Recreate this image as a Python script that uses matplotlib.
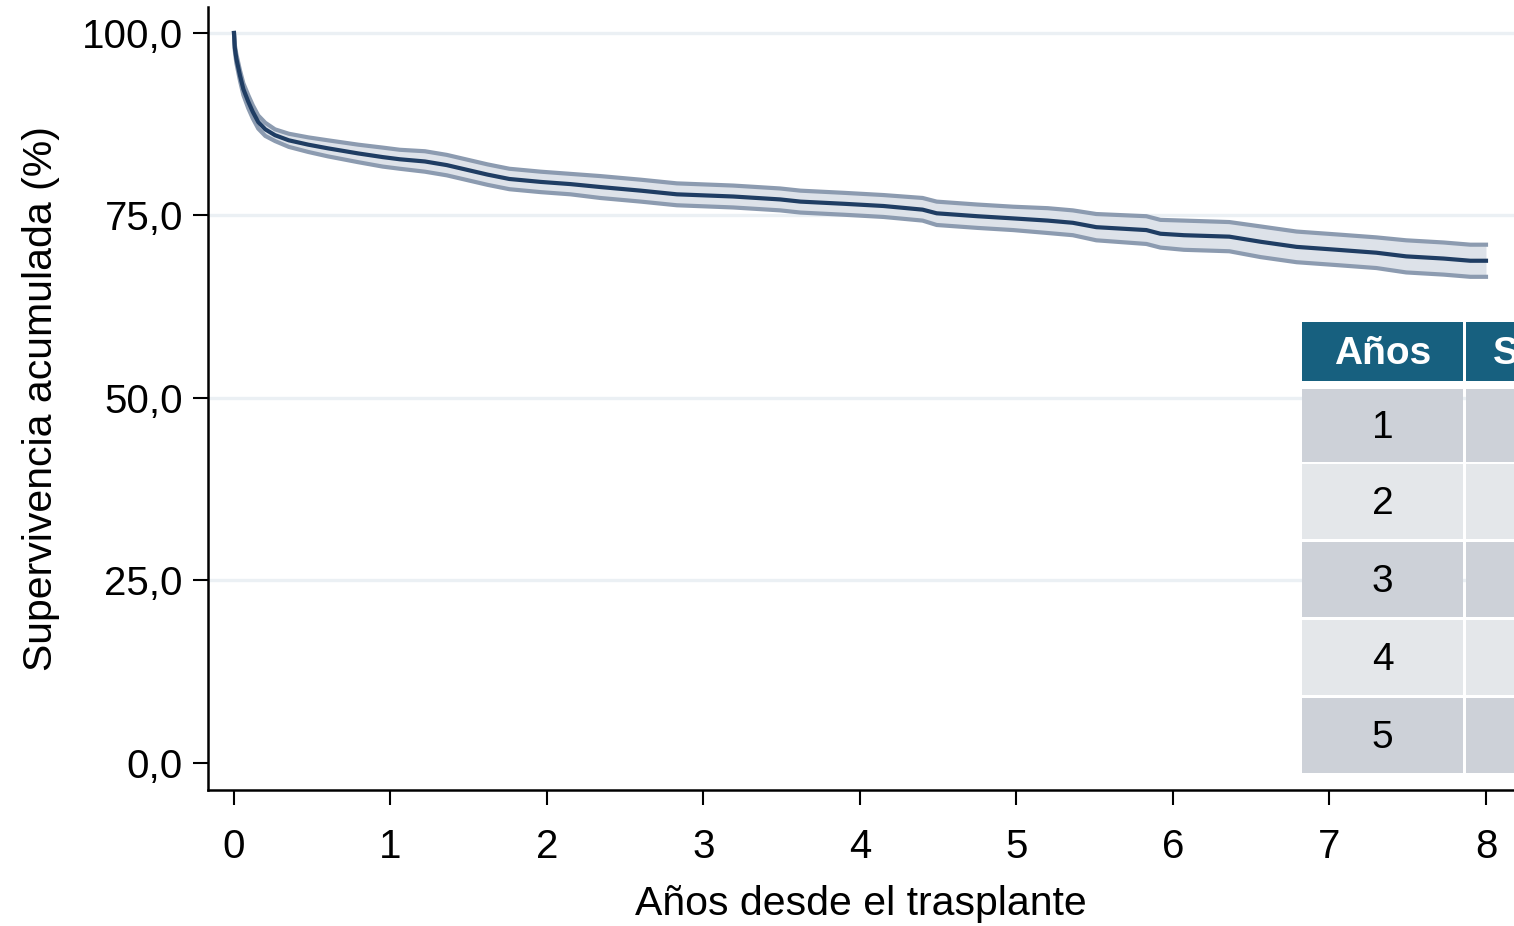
import matplotlib
matplotlib.use("Agg")
import matplotlib.pyplot as plt
from matplotlib.patches import Rectangle

plt.rcParams['font.family'] = ['Liberation Sans', 'DejaVu Sans']

# ---- data ----
years = [0.0, 0.005, 0.015, 0.038, 0.06, 0.091, 0.12, 0.155, 0.2, 0.262, 0.35,
         0.475, 0.6, 0.794, 0.95, 1.06, 1.22, 1.36, 1.5, 1.62, 1.76, 1.96,
         2.15, 2.34, 2.6, 2.83, 3.19, 3.49, 3.62, 3.9, 4.15, 4.40, 4.49, 4.75,
         4.98, 5.2, 5.36, 5.51, 5.83, 5.92, 6.07, 6.36, 6.56, 6.79, 7.05,
         7.30, 7.49, 7.73, 7.90, 8.0]
survival = [100.0, 98.0, 96.5, 94.2, 92.3, 90.6, 89.2, 87.8, 86.8, 86.0, 85.3,
            84.7, 84.2, 83.5, 83.0, 82.7, 82.4, 81.9, 81.2, 80.6, 80.0, 79.6,
            79.3, 78.9, 78.4, 77.9, 77.6, 77.2, 76.9, 76.6, 76.3, 75.8, 75.3, 74.9,
            74.6, 74.3, 74.0, 73.4, 73.0, 72.5, 72.3, 72.1, 71.4, 70.7, 70.3,
            69.9, 69.4, 69.1, 68.8, 68.8]
upper = [100.0, 98.4, 97.1, 94.9, 93.1, 91.5, 90.1, 88.7, 87.7, 86.8, 86.2,
         85.7, 85.3, 84.7, 84.3, 84.0, 83.8, 83.3, 82.6, 82.0, 81.4, 81.0,
         80.7, 80.4, 79.9, 79.4, 79.1, 78.7, 78.4, 78.1, 77.8, 77.4, 76.9, 76.5,
         76.2, 76.0, 75.7, 75.2, 74.9, 74.4, 74.3, 74.1, 73.5, 72.8, 72.4,
         72.0, 71.6, 71.3, 71.0, 71.0]
lower = [100.0, 97.6, 95.9, 93.5, 91.5, 89.7, 88.3, 86.9, 85.9, 85.2, 84.4,
         83.7, 83.1, 82.3, 81.7, 81.4, 81.0, 80.5, 79.8, 79.2, 78.6, 78.2,
         77.9, 77.4, 76.9, 76.4, 76.1, 75.7, 75.4, 75.1, 74.8, 74.3, 73.7, 73.3,
         73.0, 72.6, 72.3, 71.6, 71.1, 70.6, 70.3, 70.1, 69.3, 68.6, 68.2,
         67.8, 67.2, 66.9, 66.6, 66.6]

x_ticks = [0, 1, 2, 3, 4, 5, 6, 7, 8]
y_ticks = [0, 25, 50, 75, 100]
y_tick_labels = ["0,0", "25,0", "50,0", "75,0", "100,0"]
grid_levels = [25, 50, 75, 100]

table_header = ["Años", "Supervivencia (%)"]
table_years = ["1", "2", "3", "4", "5"]

# ---- figure ----
W, H = 1514, 926
fig = plt.figure(figsize=(W / 100, H / 100), dpi=100)

def fx(px):
    return px / W

def fy(py):
    return 1 - py / H

ax_left, ax_right, ax_top, ax_bottom = 208, 1514, 7, 790
ax = fig.add_axes([fx(ax_left), fy(ax_bottom), fx(ax_right - ax_left), (ax_bottom - ax_top) / H])
ax.set_xlim(-0.1661, 8.179)
ax.set_ylim(-3.70, 103.56)

for g in grid_levels:
    ax.axhline(g, color="#ebf0f4", lw=2.4, zorder=0)

ax.fill_between(years, lower, upper, color="#dde2e9", lw=0, zorder=1)
ax.plot(years, upper, color="#8c9bb0", lw=3.0, zorder=2, solid_joinstyle="miter")
ax.plot(years, lower, color="#8c9bb0", lw=3.0, zorder=2, solid_joinstyle="miter")
ax.plot(years, survival, color="#1f3d63", lw=3.0, zorder=3, solid_joinstyle="miter")

ax.set_xticks(x_ticks)
ax.set_xticklabels([str(v) for v in x_ticks])
ax.set_yticks(y_ticks)
ax.set_yticklabels(y_tick_labels)

for s in ["top", "right"]:
    ax.spines[s].set_visible(False)
for s in ["left", "bottom"]:
    ax.spines[s].set_linewidth(1.8)
    ax.spines[s].set_color("black")

ax.tick_params(axis="both", direction="out", length=11, width=1.5, labelsize=29, colors="black")
ax.tick_params(axis="y", pad=7)
ax.tick_params(axis="x", pad=16)

ax.set_xlabel("Años desde el trasplante", fontsize=29.5, labelpad=14)
ax.set_ylabel("Supervivencia acumulada (%)", fontsize=29.5, labelpad=16)

# ---- table (cropped at the right edge, as in the reference) ----
header_color = "#17607f"
row_colors = ["#cdd1d8", "#e4e7ea"]
col1 = (1302, 1463)
col2 = (1466, 1530)
header_y = (322, 381)
rows_y = [(389, 462), (464, 539), (542, 617), (620, 695), (698, 773)]

def add_rect(x0, x1, y0, y1, color):
    fig.add_artist(Rectangle((fx(x0), fy(y1)), fx(x1 - x0), (y1 - y0) / H,
                             transform=fig.transFigure, facecolor=color,
                             edgecolor="none", zorder=5))

add_rect(col1[0], col1[1], header_y[0], header_y[1], header_color)
add_rect(col2[0], col2[1], header_y[0], header_y[1], header_color)
fig.text(fx((col1[0] + col1[1]) / 2), fy(354), table_header[0],
         ha="center", va="center", color="white", fontsize=28, fontweight="bold", zorder=6)
fig.text(fx(1493), fy(354), table_header[1],
         ha="left", va="center", color="white", fontsize=28, fontweight="bold", zorder=6)

for i, (lab, (y0, y1)) in enumerate(zip(table_years, rows_y)):
    c = row_colors[i % 2]
    add_rect(col1[0], col1[1], y0, y1, c)
    add_rect(col2[0], col2[1], y0, y1, c)
    fig.text(fx((col1[0] + col1[1]) / 2), fy((y0 + y1) / 2 + 2), lab,
             ha="center", va="center", color="black", fontsize=28, zorder=6)

fig.savefig("out.png", dpi=100)
